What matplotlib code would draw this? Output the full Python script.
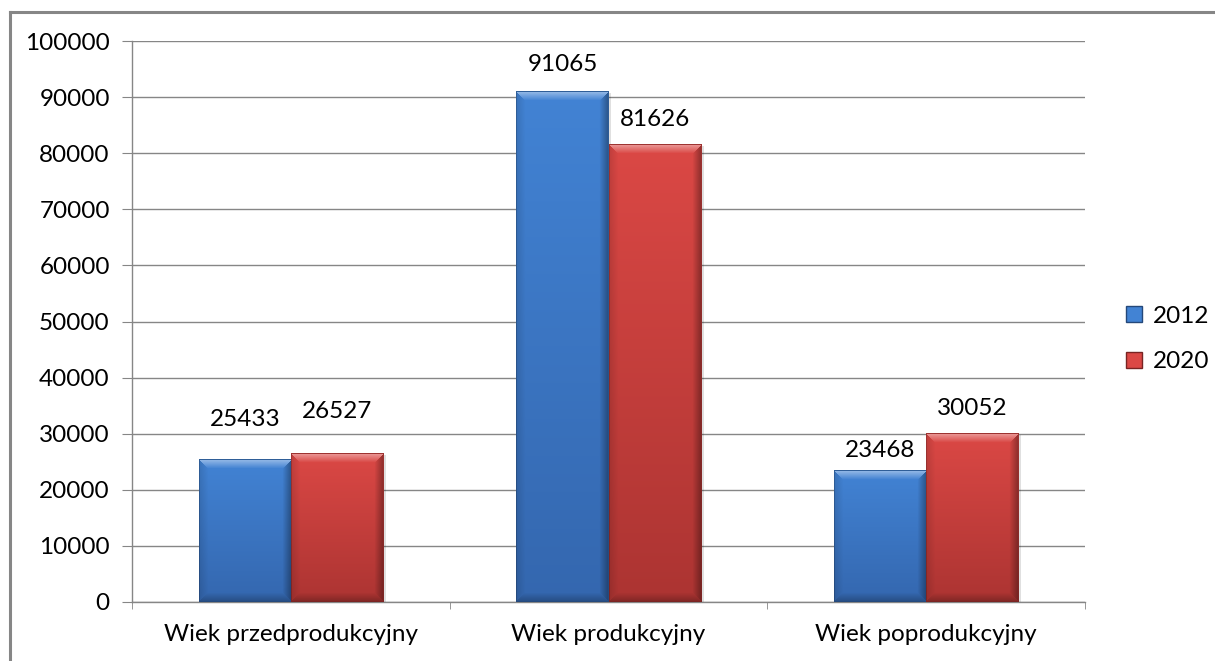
import numpy as np
import matplotlib
matplotlib.use("Agg")
import matplotlib.pyplot as plt
from matplotlib.patches import Patch
from matplotlib.lines import Line2D

plt.rcParams['font.family'] = ['Lato', 'DejaVu Sans']

categories = ['Wiek przedprodukcyjny', 'Wiek produkcyjny', 'Wiek poprodukcyjny']
series_names = ['2012', '2020']
values_2012 = [25433, 91065, 23468]
values_2020 = [26527, 81626, 30052]
y_ticks = [0, 10000, 20000, 30000, 40000, 50000, 60000, 70000, 80000, 90000, 100000]

# label gap above bar top, in pixels (labels were nudged by hand in the original)
label_gap_2012 = [40, 27, 20]
label_gap_2020 = [42, 25, 25]

W, H, DPI = 1215, 661, 100
fs = 17.5
fig = plt.figure(figsize=(W / DPI, H / DPI), dpi=DPI)
ax = fig.add_axes([132 / W, 1 - 602 / H, (1085 - 132) / W, (602 - 41) / H])

grid_col = '#868686'
blue_top, blue_bot = np.array([66, 131, 212]), np.array([52, 103, 175])
red_top, red_bot = np.array([219, 72, 69]), np.array([172, 52, 50])


def bevel_texture(w, h, top, bottom, b=9):
    w, h = max(int(w), 2), max(int(h), 2)
    y = np.arange(h)[:, None] * np.ones((1, w))
    x = np.ones((h, 1)) * np.arange(w)[None, :]
    t = (y / (h - 1))[..., None]
    img = (top * (1 - t) + bottom * t) / 255.0
    d = np.stack([y, h - 1 - y, x, w - 1 - x])
    side = np.argmin(d, axis=0)
    m = np.min(d, axis=0)
    s = np.clip(1 - m / b, 0, 1)[..., None]
    out = img.copy()
    light = img + (1 - img) * 0.45
    out = np.where((side == 0)[..., None], img * (1 - s) + light * s, out)
    out = np.where((side == 1)[..., None], img * (1 - s * 0.25), out)
    out = np.where((side == 2)[..., None], img * (1 - s * 0.12), out)
    out = np.where((side == 3)[..., None], img * (1 - s * 0.35), out)
    out = np.where((m < 1)[..., None], img * 0.72, out)
    return np.clip(out, 0, 1)


bar_w = 0.29
x = np.arange(len(categories))
ax.set_xlim(-0.5, 2.5)
ax.set_ylim(0, 100000)

px_x = (1085 - 132) / 3.0
px_y = (602 - 41) / 100000.0

for vals, offs, top, bot, gaps in [
    (values_2012, -bar_w / 2, blue_top, blue_bot, label_gap_2012),
    (values_2020, bar_w / 2, red_top, red_bot, label_gap_2020),
]:
    # soft shadow to the right
    ax.bar(x + offs + 3 / px_x, vals, bar_w, bottom=-300,
           color='#000000', alpha=0.12, zorder=2, linewidth=0)
    bars = ax.bar(x + offs, vals, bar_w, color=top / 255.0, zorder=3, linewidth=0)
    for b, v, g in zip(bars, vals, gaps):
        x0 = b.get_x()
        tex = bevel_texture(bar_w * px_x, v * px_y, top, bot)
        im = ax.imshow(tex, extent=(x0, x0 + bar_w, 0, v), aspect='auto',
                       zorder=4, interpolation='bilinear')
        im.set_clip_path(b)
        ax.annotate(str(v), (x0 + bar_w / 2, v), xytext=(0, g * 0.72),
                    textcoords='offset points', ha='center', va='center',
                    fontsize=fs, zorder=5)

ax.set_yticks(y_ticks)
ax.set_yticklabels([str(t) for t in y_ticks], fontsize=fs)
ax.set_xticks(x)
ax.set_xticklabels(categories, fontsize=fs)
ax.set_xticks(np.arange(-0.5, 3.0, 1.0), minor=True)
ax.tick_params(axis='x', which='major', length=0, pad=16)
ax.tick_params(axis='x', which='minor', length=5, color=grid_col, direction='out')
ax.tick_params(axis='y', length=7, color=grid_col, pad=9)
ax.grid(axis='y', color=grid_col, linewidth=1.0, zorder=0)
ax.set_axisbelow(True)
for sp in ['top', 'right']:
    ax.spines[sp].set_visible(False)
for sp in ['left', 'bottom']:
    ax.spines[sp].set_color(grid_col)
    ax.spines[sp].set_linewidth(1.0)

handles = [Patch(facecolor=blue_top / 255.0, edgecolor=blue_bot / 255.0 * 0.7),
           Patch(facecolor=red_top / 255.0, edgecolor=red_bot / 255.0 * 0.7)]
fig.legend(handles, series_names, loc='center left',
           bbox_to_anchor=(1104 / W, 1 - 339 / H), frameon=False,
           fontsize=fs, handlelength=0.65, handleheight=0.65,
           handletextpad=0.45, labelspacing=1.0)

# outer frame of the chart area
fig.add_artist(Line2D([10 / W, 10 / W], [0, 1 - 12 / H], color=grid_col, lw=2.2))
fig.add_artist(Line2D([10 / W, 1], [1 - 12 / H, 1 - 12 / H], color=grid_col, lw=2.2))

fig.savefig('out.png', dpi=DPI)
